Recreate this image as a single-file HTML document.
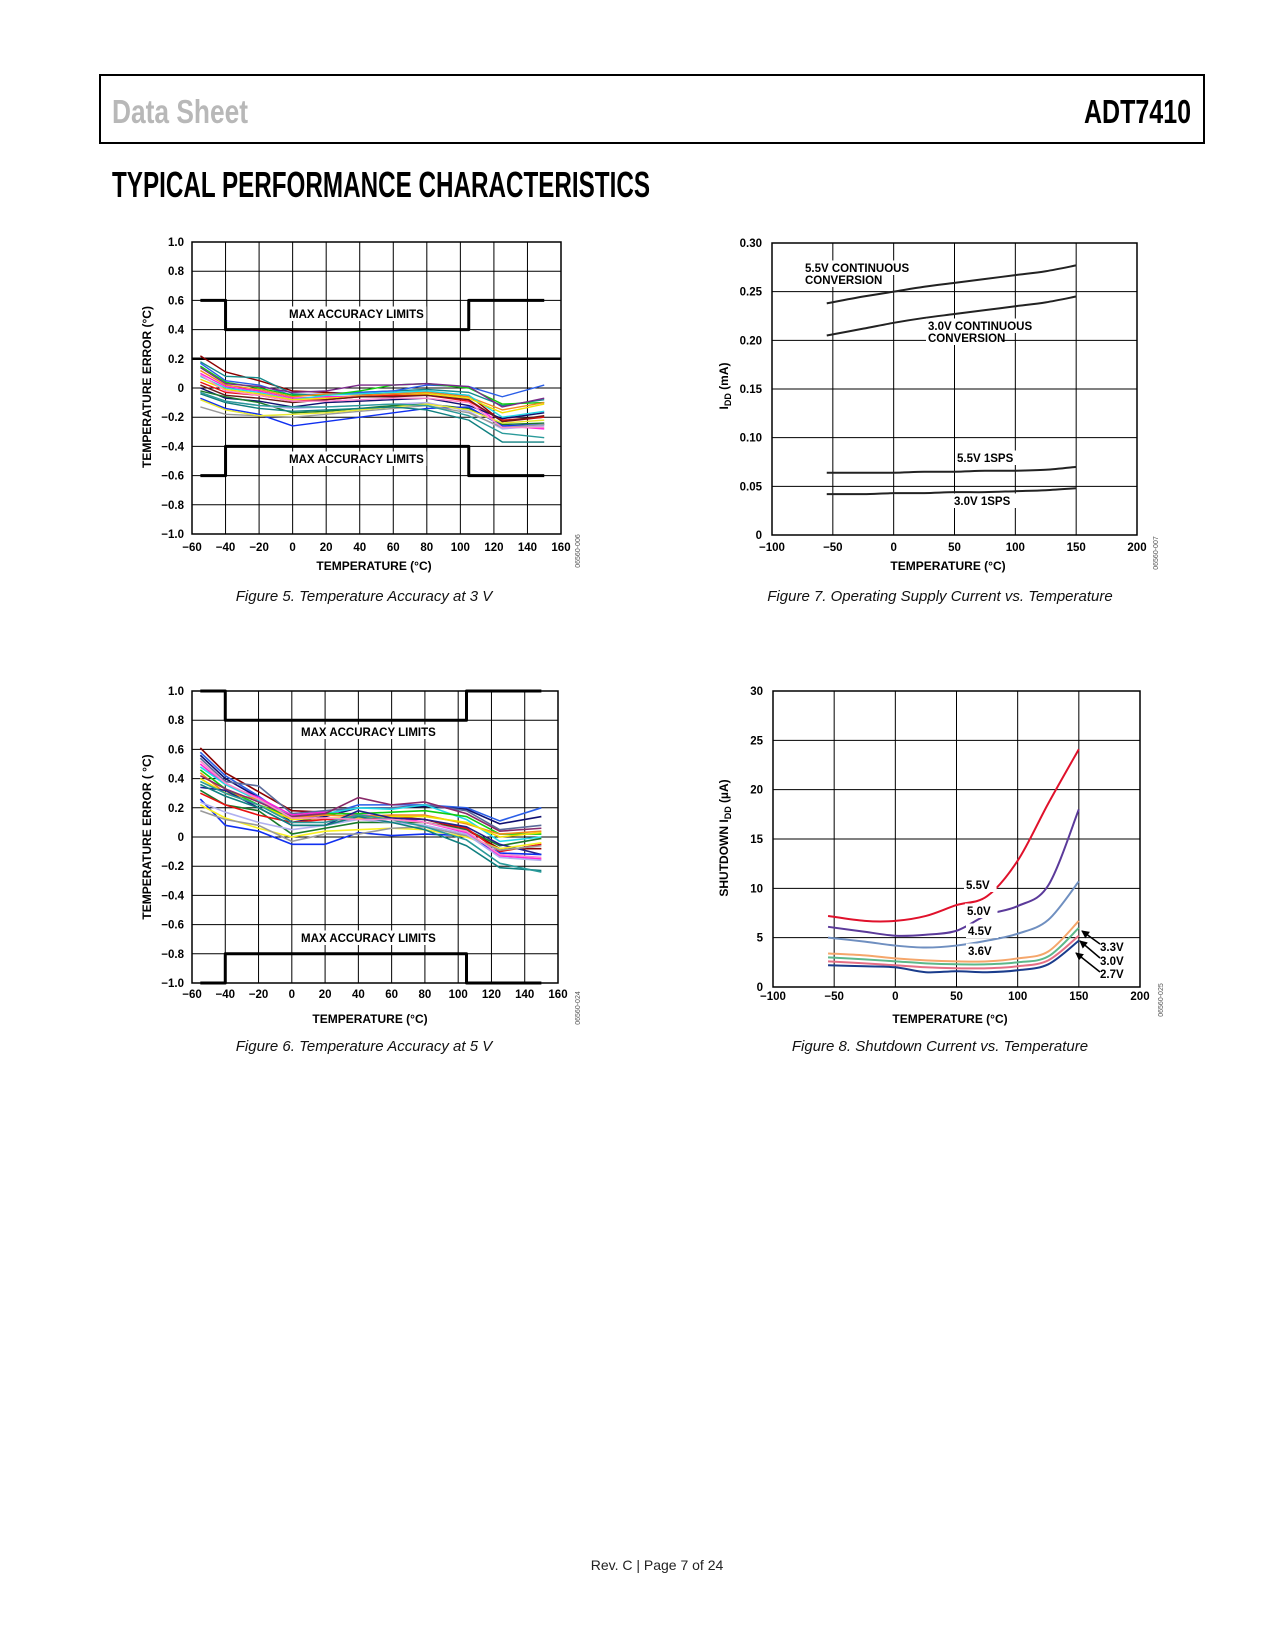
<!DOCTYPE html>
<html><head><meta charset="utf-8"><style>
body{margin:0;background:#fff;}
#page{position:relative;width:1275px;height:1650px;overflow:hidden;background:#fff;}
svg text{font-family:"Liberation Sans",sans-serif;}
</style></head><body>
<div id="page">
<svg id="main" width="1275" height="1650" viewBox="0 0 1275 1650">
<rect x="100" y="75" width="1104" height="68" fill="none" stroke="#000" stroke-width="2"/>
<text x="112" y="123" font-size="33" fill="#b8b8b8" font-weight="bold" textLength="136" lengthAdjust="spacingAndGlyphs">Data Sheet</text>
<text x="1084" y="123" font-size="33" fill="#000" font-weight="bold" textLength="107" lengthAdjust="spacingAndGlyphs">ADT7410</text>
<text x="112" y="197" font-size="36" fill="#000" font-weight="bold" textLength="538" lengthAdjust="spacingAndGlyphs">TYPICAL PERFORMANCE CHARACTERISTICS</text>
<text x="657" y="1570" font-size="14" fill="#222" text-anchor="middle">Rev. C | Page 7 of 24</text>
</svg>
</div>
<script>
// ---------- Figure 5 data (3 V) ----------
const fig5Temps = [-55,-40,-20,0,20,40,60,80,105,125,150];
const fig5Colors = ['#8b0000','#138a8a','#2a5ee8','#11cc11','#7a2a8a','#f28c1c','#ff22dd','#22d8e8','#f0e000','#e81010','#101070','#1a7a2a','#b0b0f0','#1030f0','#9a9a9a','#e8e830','#108080','#2a9a9a','#6a1a1a','#ff88cc'];
const fig5S0 = [0.22,0.11,0.05,-0.02,-0.03,-0.04,-0.04,-0.03,-0.05,-0.23,-0.20];
const fig5S1 = [0.18,0.08,0.07,-0.04,-0.05,-0.03,-0.02,-0.01,-0.03,-0.12,-0.08];
const fig5S2 = [0.17,0.05,0.02,-0.05,-0.04,-0.03,-0.02,0.02,0.01,-0.06,0.02];
const fig5S3 = [0.15,0.04,0.00,-0.05,-0.05,-0.02,0.02,0.03,0.00,-0.11,-0.10];
const fig5S4 = [0.14,0.03,0.01,-0.03,-0.02,0.02,0.02,0.03,0.01,-0.13,-0.07];
const fig5S5 = [0.12,0.02,-0.01,-0.06,-0.04,-0.05,-0.04,-0.03,-0.06,-0.15,-0.10];
const fig5S6 = [0.10,0.01,-0.02,-0.07,-0.06,-0.06,-0.05,-0.05,-0.08,-0.26,-0.28];
const fig5S7 = [0.08,0.00,-0.03,-0.08,-0.05,-0.04,-0.03,-0.02,-0.05,-0.20,-0.16];
const fig5S8 = [0.06,-0.01,-0.04,-0.08,-0.07,-0.06,-0.05,-0.04,-0.07,-0.17,-0.11];
const fig5S9 = [0.04,-0.03,-0.05,-0.09,-0.08,-0.06,-0.05,-0.05,-0.09,-0.22,-0.20];
const fig5S10 = [0.00,-0.07,-0.09,-0.13,-0.10,-0.09,-0.08,-0.07,-0.12,-0.21,-0.17];
const fig5S11 = [-0.02,-0.06,-0.10,-0.17,-0.16,-0.14,-0.12,-0.11,-0.14,-0.25,-0.24];
const fig5S12 = [-0.03,-0.09,-0.12,-0.14,-0.13,-0.12,-0.11,-0.10,-0.16,-0.28,-0.26];
const fig5S13 = [-0.07,-0.14,-0.18,-0.26,-0.23,-0.20,-0.17,-0.14,-0.13,-0.26,-0.25];
const fig5S14 = [-0.13,-0.18,-0.19,-0.20,-0.18,-0.16,-0.14,-0.12,-0.17,-0.27,-0.25];
const fig5S15 = [-0.08,-0.15,-0.19,-0.18,-0.17,-0.15,-0.13,-0.11,-0.15,-0.24,-0.22];
const fig5S16 = [-0.04,-0.10,-0.14,-0.16,-0.15,-0.14,-0.13,-0.15,-0.22,-0.37,-0.37];
const fig5S17 = [-0.03,-0.09,-0.12,-0.13,-0.13,-0.12,-0.11,-0.12,-0.19,-0.31,-0.34];
const fig5S18 = [0.02,-0.05,-0.07,-0.10,-0.08,-0.06,-0.06,-0.05,-0.08,-0.23,-0.19];
const fig5S19 = [0.09,-0.02,-0.05,-0.09,-0.09,-0.08,-0.07,-0.07,-0.10,-0.27,-0.27];
const fig5Series = [fig5S0,fig5S1,fig5S2,fig5S3,fig5S4,fig5S5,fig5S6,fig5S7,fig5S8,fig5S9,fig5S10,fig5S11,fig5S12,fig5S13,fig5S14,fig5S15,fig5S16,fig5S17,fig5S18,fig5S19];
const fig5LimitX = [-55,-40,-40,105,105,150];
const fig5LimitUpper = [0.6,0.6,0.4,0.4,0.6,0.6];
const fig5LimitLower = [-0.6,-0.6,-0.4,-0.4,-0.6,-0.6];
const fig5XTicks = [-60,-40,-20,0,20,40,60,80,100,120,140,160];
const fig5YTicks = [1.0,0.8,0.6,0.4,0.2,0,-0.2,-0.4,-0.6,-0.8,-1.0];
const fig5YLabels = ['1.0','0.8','0.6','0.4','0.2','0','\u22120.2','\u22120.4','\u22120.6','\u22120.8','\u22121.0'];
const fig5XLabels = ['\u221260','\u221240','\u221220','0','20','40','60','80','100','120','140','160'];

// ---------- Figure 6 data (5 V) ----------
const fig6Temps = [-55,-40,-20,0,20,40,60,80,105,125,150];
const fig6Colors = ['#8b0000','#2a5ee8','#101070','#5a6a9a','#ff22dd','#22d8e8','#11cc11','#f28c1c','#f0e000','#1a7a2a','#e81010','#20208a','#1030f0','#f8f020','#9a9a9a','#b0b0f0','#108080','#2a9a9a','#8a2a6a','#ff88cc'];
const fig6S0 = [0.61,0.44,0.31,0.18,0.17,0.15,0.14,0.12,0.05,-0.08,-0.08];
const fig6S1 = [0.58,0.42,0.28,0.12,0.15,0.22,0.22,0.22,0.20,0.11,0.20];
const fig6S2 = [0.56,0.40,0.27,0.10,0.14,0.20,0.20,0.21,0.19,0.09,0.14];
const fig6S3 = [0.54,0.38,0.35,0.16,0.18,0.20,0.20,0.22,0.18,0.05,0.08];
const fig6S4 = [0.50,0.36,0.27,0.15,0.17,0.15,0.14,0.10,0.03,-0.13,-0.15];
const fig6S5 = [0.48,0.36,0.25,0.14,0.16,0.20,0.19,0.22,0.12,-0.03,0.00];
const fig6S6 = [0.46,0.33,0.22,0.14,0.16,0.16,0.17,0.18,0.14,0.02,0.02];
const fig6S7 = [0.44,0.30,0.26,0.13,0.15,0.14,0.15,0.15,0.09,0.02,0.04];
const fig6S8 = [0.40,0.30,0.22,0.12,0.13,0.13,0.14,0.14,0.10,0.00,0.03];
const fig6S9 = [0.32,0.22,0.18,0.02,0.06,0.10,0.10,0.10,0.05,-0.06,-0.01];
const fig6S10 = [0.30,0.22,0.15,0.10,0.12,0.12,0.13,0.12,0.06,-0.10,-0.05];
const fig6S11 = [0.34,0.32,0.20,0.08,0.08,0.18,0.13,0.12,0.07,-0.05,-0.12];
const fig6S12 = [0.26,0.08,0.04,-0.05,-0.05,0.03,0.01,0.02,0.01,-0.11,-0.12];
const fig6S13 = [0.22,0.13,0.06,0.00,0.04,0.05,0.06,0.05,0.00,-0.08,-0.04];
const fig6S14 = [0.18,0.12,0.08,-0.03,0.02,0.02,0.06,0.07,0.01,-0.09,-0.06];
const fig6S15 = [0.24,0.17,0.10,0.05,0.08,0.12,0.10,0.08,0.02,-0.14,-0.16];
const fig6S16 = [0.36,0.28,0.20,0.08,0.08,0.14,0.10,0.05,-0.06,-0.21,-0.23];
const fig6S17 = [0.38,0.30,0.22,0.10,0.10,0.15,0.12,0.07,-0.02,-0.18,-0.24];
const fig6S18 = [0.42,0.33,0.24,0.14,0.16,0.27,0.22,0.24,0.16,0.04,0.06];
const fig6S19 = [0.52,0.37,0.26,0.13,0.13,0.12,0.12,0.10,0.04,-0.12,-0.14];
const fig6Series = [fig6S0,fig6S1,fig6S2,fig6S3,fig6S4,fig6S5,fig6S6,fig6S7,fig6S8,fig6S9,fig6S10,fig6S11,fig6S12,fig6S13,fig6S14,fig6S15,fig6S16,fig6S17,fig6S18,fig6S19];
const fig6LimitX = [-55,-40,-40,105,105,150];
const fig6LimitUpper = [1.0,1.0,0.8,0.8,1.0,1.0];
const fig6LimitLower = [-1.0,-1.0,-0.8,-0.8,-1.0,-1.0];

// ---------- Figure 7 data ----------
const fig7Temps = [-55,-25,0,25,50,75,100,125,150];
const fig7Cont55 = [0.238,0.245,0.250,0.255,0.259,0.263,0.267,0.271,0.277];
const fig7Cont30 = [0.205,0.212,0.218,0.223,0.227,0.231,0.235,0.239,0.245];
const fig7Sps55 = [0.064,0.064,0.064,0.065,0.065,0.066,0.066,0.067,0.070];
const fig7Sps30 = [0.042,0.042,0.043,0.043,0.044,0.044,0.045,0.046,0.048];
const fig7XTicks = [-100,-50,0,50,100,150,200];
const fig7XLabels = ['\u2212100','\u221250','0','50','100','150','200'];
const fig7YTicks = [0,0.05,0.10,0.15,0.20,0.25,0.30];
const fig7YLabels = ['0','0.05','0.10','0.15','0.20','0.25','0.30'];

// ---------- Figure 8 data ----------
const fig8Temps = [-55,-25,0,25,50,75,100,125,150];
const fig8V55 = [7.2,6.7,6.7,7.2,8.3,9.2,12.8,18.6,24.1];
const fig8V50 = [6.1,5.6,5.2,5.3,5.7,7.3,8.2,10.3,18.0];
const fig8V45 = [5.0,4.6,4.2,4.0,4.2,4.7,5.4,6.8,10.7];
const fig8V36 = [3.4,3.2,2.9,2.7,2.6,2.6,2.9,3.6,6.7];
const fig8V33 = [3.0,2.8,2.6,2.4,2.3,2.3,2.5,3.1,6.0];
const fig8V30 = [2.6,2.4,2.2,2.0,1.9,1.9,2.1,2.7,5.2];
const fig8V27 = [2.2,2.1,2.0,1.5,1.6,1.5,1.7,2.3,4.7];
const fig8YTicks = [0,5,10,15,20,25,30];
const fig8YLabels = ['0','5','10','15','20','25','30'];

const NS = 'http://www.w3.org/2000/svg';
const svg = document.getElementById('main');
function mk(tag, attrs, parent){
  const e = document.createElementNS(NS, tag);
  for (const k in attrs) e.setAttribute(k, attrs[k]);
  (parent||svg).appendChild(e);
  return e;
}
function txt(parent, x, y, s, size, anchor, extra){
  const t = mk('text', Object.assign({x:x, y:y, 'font-size':size, 'font-weight':'bold', 'text-anchor':anchor||'middle', fill:'#000'}, extra||{}), parent);
  t.textContent = s;
  return t;
}
function makeChart(name, L, R, T, B, x0, x1, y0, y1){
  const g = mk('g', {});
  
  
  const sx = v => L + (v - x0) / (x1 - x0) * (R - L);
  const sy = v => B - (v - y0) / (y1 - y0) * (B - T);
  return {g, sx, sy};
}
function grid(c, xt, yt, L, R, T, B){
  const gg = mk('g', {}, c.g);
  
  
  xt.forEach(v => mk('line', {x1:c.sx(v), x2:c.sx(v), y1:T, y2:B, stroke:'#000', 'stroke-width':1}, gg));
  yt.forEach(v => mk('line', {x1:L, x2:R, y1:c.sy(v), y2:c.sy(v), stroke:'#000', 'stroke-width':1}, gg));
  const fr = mk('rect', {x:L, y:T, width:R-L, height:B-T, fill:'none', stroke:'#000', 'stroke-width':1.5}, c.g);
  
  
}
function line(c, xs, ys, color, w, nm){
  const p = mk('polyline', {points: xs.map((x,i)=>c.sx(x)+','+c.sy(ys[i])).join(' '), fill:'none', stroke:color, 'stroke-width':w, 'stroke-linejoin':'round'}, c.g);
  
  
  return p;
}
function smooth(c, xs, ys, color, w, nm){
  const P = xs.map((x,i)=>[c.sx(x), c.sy(ys[i])]);
  let d = 'M' + P[0][0] + ',' + P[0][1];
  for (let i=0;i<P.length-1;i++){
    const p0 = P[Math.max(0,i-1)], p1 = P[i], p2 = P[i+1], p3 = P[Math.min(P.length-1,i+2)];
    const c1x = p1[0] + (p2[0]-p0[0])/6, c1y = p1[1] + (p2[1]-p0[1])/6;
    const c2x = p2[0] - (p3[0]-p1[0])/6, c2y = p2[1] - (p3[1]-p1[1])/6;
    d += ' C' + c1x + ',' + c1y + ' ' + c2x + ',' + c2y + ' ' + p2[0] + ',' + p2[1];
  }
  const p = mk('path', {d:d, fill:'none', stroke:color, 'stroke-width':w}, c.g);
  
  
  return p;
}
function ticksX(c, vals, labels, y){
  vals.forEach((v,i) => {
    const t = txt(c.g, c.sx(v), y, labels[i], 11.5);
    
    
  });
}
function ticksY(c, vals, labels, x){
  vals.forEach((v,i) => {
    const t = txt(c.g, x, c.sy(v)+4, labels[i], 11.5, 'end');
    
    
  });
}
function vtitle(c, x, y, html, nm){
  const t = mk('text', {x:x, y:y, 'font-size':12, 'font-weight':'bold', 'text-anchor':'middle', transform:'rotate(-90 '+x+' '+y+')'}, c.g);
  t.innerHTML = html;
  
  
}
function labelText(c, x, y, s, size, nm, bg){
  if (bg){
    const w = s.length * size * 0.62;
    mk('rect', {x:x-2, y:y-size, width:w+4, height:size+3, fill:'#fff'}, c.g);
  }
  const t = txt(c.g, x, y, s, size, 'start');
  
  
}
function idCode(c, x, y, s){
  const t = mk('text', {x:x, y:y, 'font-size':7, fill:'#555', 'text-anchor':'middle', transform:'rotate(-90 '+x+' '+y+')'}, c.g);
  t.textContent = s;
  
  
}
function caption(x, y, s, nm){
  const t = mk('text', {x:x, y:y, 'font-size':15, 'font-style':'italic', 'text-anchor':'middle', fill:'#111'});
  t.textContent = s;
  
  
}
function xtitle(c, x, y){
  const t = mk('text', {x:x, y:y, 'font-size':12, 'font-weight':'bold', 'text-anchor':'middle'}, c.g);
  t.textContent = 'TEMPERATURE (\u00B0C)';
  
  
}

// ===== Figure 5 =====
(function(){
  const L=192, R=561, T=242, B=534;
  const c = makeChart('figure5-chart', L, R, T, B, -60, 160, -1, 1);
  grid(c, fig5XTicks, fig5YTicks, L, R, T, B);
  mk('line', {x1:L, x2:R, y1:c.sy(0.2), y2:c.sy(0.2), stroke:'#000', 'stroke-width':2.5}, c.g);
  fig5Series.forEach((s,i) => line(c, fig5Temps, s, fig5Colors[i], 1.4, 'series-3v-' + i));
  line(c, fig5LimitX, fig5LimitUpper, '#000', 3, 'upper-accuracy-limit');
  line(c, fig5LimitX, fig5LimitLower, '#000', 3, 'lower-accuracy-limit');
  labelText(c, 289, 318, 'MAX ACCURACY LIMITS', 11.5, 'upper-limit-label', true);
  labelText(c, 289, 463, 'MAX ACCURACY LIMITS', 11.5, 'lower-limit-label', true);
  ticksX(c, fig5XTicks, fig5XLabels, 551);
  ticksY(c, fig5YTicks, fig5YLabels, 184);
  vtitle(c, 151, 387, 'TEMPERATURE ERROR (\u00B0C)', 'y-axis-title');
  xtitle(c, 374, 570);
  idCode(c, 580, 551, '06560-006');
})();
caption(364, 601, 'Figure 5. Temperature Accuracy at 3 V', 'figure5-caption');

// ===== Figure 6 =====
(function(){
  const L=192, R=558, T=691, B=983;
  const c = makeChart('figure6-chart', L, R, T, B, -60, 160, -1, 1);
  grid(c, fig5XTicks, fig5YTicks, L, R, T, B);
  fig6Series.forEach((s,i) => line(c, fig6Temps, s, fig6Colors[i], 1.6, 'series-5v-' + i));
  line(c, fig6LimitX, fig6LimitUpper, '#000', 3, 'upper-accuracy-limit');
  line(c, fig6LimitX, fig6LimitLower, '#000', 3, 'lower-accuracy-limit');
  labelText(c, 301, 736, 'MAX ACCURACY LIMITS', 11.5, 'upper-limit-label', true);
  labelText(c, 301, 942, 'MAX ACCURACY LIMITS', 11.5, 'lower-limit-label', true);
  ticksX(c, fig5XTicks, fig5XLabels, 998);
  ticksY(c, fig5YTicks, fig5YLabels, 184);
  vtitle(c, 151, 837, 'TEMPERATURE ERROR ( \u00B0C)', 'y-axis-title');
  xtitle(c, 370, 1023);
  idCode(c, 580, 1008, '06560-024');
})();
caption(364, 1051, 'Figure 6. Temperature Accuracy at 5 V', 'figure6-caption');

// ===== Figure 7 =====
(function(){
  const L=772, R=1137, T=243, B=535;
  const c = makeChart('figure7-chart', L, R, T, B, -100, 200, 0, 0.30);
  grid(c, fig7XTicks, fig7YTicks, L, R, T, B);
  smooth(c, fig7Temps, fig7Cont55, '#222', 2, 'series-5v5-continuous');
  smooth(c, fig7Temps, fig7Cont30, '#222', 2, 'series-3v0-continuous');
  smooth(c, fig7Temps, fig7Sps55, '#222', 2, 'series-5v5-1sps');
  smooth(c, fig7Temps, fig7Sps30, '#222', 2, 'series-3v0-1sps');
  labelText(c, 805, 272, '5.5V CONTINUOUS', 11.5, 'label-5v5-continuous', true);
  labelText(c, 805, 284, 'CONVERSION', 11.5, 'label-5v5-continuous-2', true);
  labelText(c, 928, 330, '3.0V CONTINUOUS', 11.5, 'label-3v0-continuous', true);
  labelText(c, 928, 342, 'CONVERSION', 11.5, 'label-3v0-continuous-2', true);
  labelText(c, 957, 462, '5.5V 1SPS', 11.5, 'label-5v5-1sps', true);
  labelText(c, 954, 505, '3.0V 1SPS', 11.5, 'label-3v0-1sps', true);
  ticksX(c, fig7XTicks, fig7XLabels, 551);
  ticksY(c, fig7YTicks, fig7YLabels, 762);
  vtitle(c, 728, 386, 'I<tspan font-size="9" dy="3">DD</tspan><tspan dy="-3"> (mA)</tspan>', 'y-axis-title');
  xtitle(c, 948, 570);
  idCode(c, 1158, 553, '06560-007');
})();
caption(940, 601, 'Figure 7. Operating Supply Current vs. Temperature', 'figure7-caption');

// ===== Figure 8 =====
(function(){
  const L=773, R=1140, T=691, B=987;
  const c = makeChart('figure8-chart', L, R, T, B, -100, 200, 0, 30);
  grid(c, fig7XTicks, fig8YTicks, L, R, T, B);
  smooth(c, fig8Temps, fig8V55, '#e0112b', 2, 'series-5v5');
  smooth(c, fig8Temps, fig8V50, '#5b3a9a', 2, 'series-5v0');
  smooth(c, fig8Temps, fig8V45, '#6f8fc0', 2, 'series-4v5');
  smooth(c, fig8Temps, fig8V36, '#f5a66b', 2, 'series-3v6');
  smooth(c, fig8Temps, fig8V33, '#5cb88a', 2, 'series-3v3');
  smooth(c, fig8Temps, fig8V30, '#e56f85', 2, 'series-3v0');
  smooth(c, fig8Temps, fig8V27, '#1a3c8c', 2, 'series-2v7');
  labelText(c, 966, 889, '5.5V', 11.5, 'label-5v5', true);
  labelText(c, 967, 915, '5.0V', 11.5, 'label-5v0', true);
  labelText(c, 968, 935, '4.5V', 11.5, 'label-4v5', true);
  labelText(c, 968, 955, '3.6V', 11.5, 'label-3v6', true);
  [[1082,931,1100,944],[1080,941,1100,958],[1076,953,1100,972]].forEach(a => {
    const l = mk('line', {x1:a[2], y1:a[3], x2:a[0], y2:a[1], stroke:'#000', 'stroke-width':1.5, 'marker-end':'url(#arr)'}, c.g);
    
    
  });
  labelText(c, 1100, 951, '3.3V', 11.5, 'label-3v3', false);
  labelText(c, 1100, 965, '3.0V', 11.5, 'label-3v0', false);
  labelText(c, 1100, 978, '2.7V', 11.5, 'label-2v7', false);
  ticksX(c, fig7XTicks, fig7XLabels, 1000);
  ticksY(c, fig8YTicks, fig8YLabels, 763);
  vtitle(c, 728, 838, 'SHUTDOWN I<tspan font-size="9" dy="3">DD</tspan><tspan dy="-3"> (\u00B5A)</tspan>', 'y-axis-title');
  xtitle(c, 950, 1023);
  idCode(c, 1163, 1000, '06560-025');
})();
caption(940, 1051, 'Figure 8. Shutdown Current vs. Temperature', 'figure8-caption');

const defs = mk('defs', {});
const mkr = mk('marker', {id:'arr', markerWidth:8, markerHeight:8, refX:7, refY:4, orient:'auto', markerUnits:'userSpaceOnUse'}, defs);
mk('path', {d:'M0,0 L8,4 L0,8 z', fill:'#000'}, mkr);
</script>
</body></html>
